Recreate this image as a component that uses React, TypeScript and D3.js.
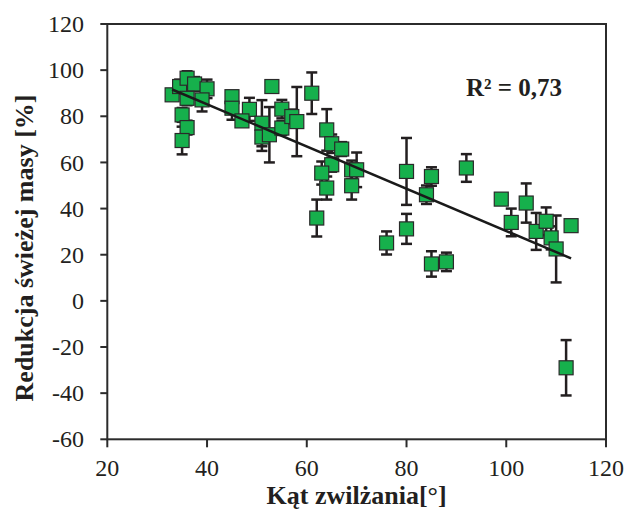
import React from "react";
import * as d3 from "d3";

const xValues = [33, 34.5, 36, 37.5, 40, 36, 39, 35, 36, 35, 45, 45, 48.5, 47, 53, 51, 51, 52.5, 55, 55, 57, 58, 61, 64, 65, 67, 65, 63, 64, 69, 70, 69, 62, 80, 85, 84, 92, 80, 76, 85, 88, 99, 101, 104, 106, 108, 109, 110, 113, 112];
const yValues = [89.3, 92.9, 96.5, 94, 91.9, 87.8, 87.1, 80.6, 75.1, 69.5, 88.5, 83.5, 83, 78, 92.9, 77, 71, 72, 83.1, 74.9, 79.9, 77.7, 90, 74.1, 68.1, 65.8, 59, 55.4, 48.9, 56.8, 56.8, 49.9, 35.9, 56.1, 53.9, 46, 57.6, 31.2, 25.1, 16, 16.9, 44.1, 34, 42.4, 30.1, 34.5, 27.3, 22.5, 32.6, -29];
const errValues = [2, 3, 3, 3, 4, 3, 5, 3, 3, 6, 2, 5, 5, 2, 1, 10, 6, 12, 4, 3, 3, 15, 9, 9, 4, 3, 3, 5, 5, 4, 7.5, 6, 8, 14.5, 4, 4, 6, 6.5, 5, 5.5, 4, 2, 6, 8.5, 8, 6, 5, 14.5, 0, 12];

const xTicks = [20, 40, 60, 80, 100, 120];
const yTicks = [-60, -40, -20, 0, 20, 40, 60, 80, 100, 120];
const trendSlope = -0.915;
const trendIntercept = 121.8;
const r2Label = "R² = 0,73";
const xTitle = "Kąt zwilżania[°]";
const yTitle = "Redukcja świeżej masy [%]";

export default function App() {
  const W = 628, H = 515;
  const x = d3.scaleLinear().domain([20, 120]).range([107.3, 606]);
  const y = d3.scaleLinear().domain([-60, 120]).range([439.3, 24]);
  const data = xValues.map((v, i) => ({ x: v, y: yValues[i], e: errValues[i] }));
  const [xmin, xmax] = d3.extent(xValues) as [number, number];
  const line = d3.line<number>().x((d) => x(d)).y((d) => y(trendIntercept + trendSlope * d));
  const axisColor = "#2b2b2b";
  const font = "'Liberation Serif', 'Times New Roman', serif";
  const sq = 14;
  const cap = 5.5;
  return (
    <svg width={W} height={H} style={{ position: "absolute", left: 0, top: 0, background: "#fff" }}>
      {/* error bars */}
      <g stroke="#231f20" strokeWidth={2.5} fill="none">
        {data.filter((d) => d.e > 0).map((d, i) => (
          <g key={i}>
            <line x1={x(d.x)} x2={x(d.x)} y1={y(d.y - d.e)} y2={y(d.y + d.e)} />
            <line x1={x(d.x) - cap} x2={x(d.x) + cap} y1={y(d.y - d.e)} y2={y(d.y - d.e)} />
            <line x1={x(d.x) - cap} x2={x(d.x) + cap} y1={y(d.y + d.e)} y2={y(d.y + d.e)} />
          </g>
        ))}
      </g>
      {/* markers */}
      <g>
        {data.map((d, i) => (
          <rect key={i} x={x(d.x) - sq / 2} y={y(d.y) - sq / 2} width={sq} height={sq}
            fill="#16b04c" stroke="#2a2a2a" strokeWidth={1.2} />
        ))}
      </g>
      {/* trend line */}
      <path d={line([xmin, xmax]) || ""} stroke="#1a1a1a" strokeWidth={2.5} fill="none" />
      {/* frame */}
      <rect x={x(20)} y={y(120)} width={x(120) - x(20)} height={y(-60) - y(120)} fill="none" stroke={axisColor} strokeWidth={2} />
      {/* y ticks */}
      <g fontFamily={font} fontSize={24} fill="#231f20">
        {yTicks.map((t) => (
          <g key={t}>
            <line x1={x(20) - 7} x2={x(20)} y1={y(t)} y2={y(t)} stroke={axisColor} strokeWidth={2} />
            <text x={84} y={y(t)} dy="0.34em" textAnchor="end">{t}</text>
          </g>
        ))}
        {xTicks.map((t) => (
          <g key={t}>
            <line x1={x(t)} x2={x(t)} y1={y(-60)} y2={y(-60) + 8} stroke={axisColor} strokeWidth={2} />
            <text x={x(t)} y={476} textAnchor="middle">{t}</text>
          </g>
        ))}
      </g>
      <text x={x(70)} y={504} textAnchor="middle" fontFamily={font} fontWeight="bold" fontSize={26} fill="#231f20">{xTitle}</text>
      <text transform={`translate(33,248) rotate(-90)`} textAnchor="middle" fontFamily={font} fontWeight="bold" fontSize={26} fill="#231f20">{yTitle}</text>
      <text x={466} y={96} fontFamily={font} fontWeight="bold" fontSize={25} fill="#231f20">{r2Label}</text>
    </svg>
  );
}
